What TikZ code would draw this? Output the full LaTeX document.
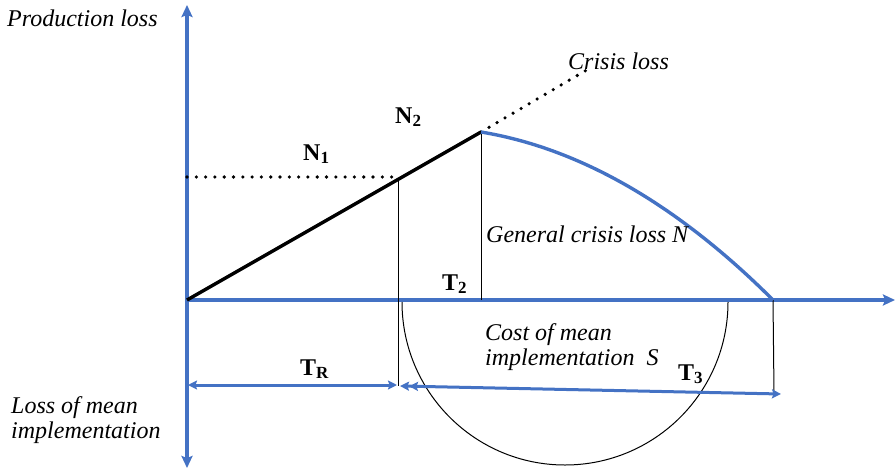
\documentclass[tikz,border=0pt]{standalone}
\usepackage{fontspec}
\setmainfont{Liberation Serif}
\usetikzlibrary{arrows.meta}
\definecolor{axisblue}{HTML}{4472C4}
\begin{document}
\begin{tikzpicture}[x=1pt,y=-1pt,
  axis/.style={draw=axisblue, line width=3.4pt},
  bluearr/.style={draw=axisblue, line width=3pt},
  thinline/.style={draw=black, line width=1pt},
  mainline/.style={draw=black, line width=3.4pt},
  dotline/.style={draw=black, line width=3.6pt, line cap=round, dash pattern=on 0pt off 9.3pt},
  lbl/.style={font=\fontsize{24}{26}\selectfont\itshape, inner sep=0pt, anchor=base west},
  mlbl/.style={font=\fontsize{24}{25}\selectfont\itshape, inner sep=0pt, anchor=north west, align=left},
  blbl/.style={font=\fontsize{24}{26}\selectfont\bfseries, inner sep=0pt, anchor=base west},
  bigtip/.tip={Stealth[length=12pt,width=11pt,inset=2pt]},
  smalltip/.tip={Stealth[length=9pt,width=9pt,inset=1.5pt]}
]
\useasboundingbox (0,0) rectangle (896,471);
\newcommand{\subsc}[1]{\raisebox{-3.5pt}{\fontsize{17}{17}\selectfont #1}}

% coordinates
\coordinate (O) at (187,300);
\coordinate (Ytop) at (187,5);
\coordinate (Ybot) at (187,468);
\coordinate (Xend) at (895,300);
\coordinate (P) at (481,132);
\coordinate (Q) at (398,178);
\coordinate (Qaxis) at (187,177);
\coordinate (Qdot) at (398,177);
\coordinate (Cend) at (590,68);
\coordinate (E) at (773,300);
\coordinate (Pbase) at (481,300);
\coordinate (Qbot) at (398,386);
\coordinate (Ebot) at (774,393);
\coordinate (TRl) at (188,385);
\coordinate (TRr) at (397,385);
\coordinate (T3l) at (400,386);
\coordinate (T3r) at (781,394);
\coordinate (Sl) at (402,302);

% axes
\draw[axis, -{bigtip}] (O) -- (Ytop);
\draw[axis, -{bigtip}] (O) -- (Ybot);
\draw[axis, -{bigtip}] (O) -- (Xend);

% thin verticals
\draw[thinline] (Q) -- (Qbot);
\draw[thinline] (P) -- (Pbase);
\draw[thinline] (E) -- (Ebot);

% semicircle
\draw[thinline] (Sl) arc[start angle=180, end angle=360, radius=163pt];

% dotted lines
\draw[dotline] (Qaxis) -- (Qdot);
\draw[dotline] (P) -- (Cend);

% production line
\draw[mainline] (O) -- (P);

% recovery curve
\draw[axis] (P) .. controls (578,148) and (676,203) .. (E);

% time arrows
\draw[bluearr, {smalltip}-{smalltip}] (TRl) -- (TRr);
\draw[bluearr, {smalltip[sep=0pt] smalltip}-{smalltip}] (T3l) -- (T3r);

% labels
\node[lbl] (prod) at (7,26) {Production loss};
\node[lbl] (crisis) at (568,69) {Crisis loss};
\node[lbl] (gen) at (486,242) {General crisis loss N};
\node[mlbl] (cost) at (485,323) {Cost of mean\\implementation\ \ S};
\node[mlbl] (lossm) at (11,396) {Loss of mean\\implementation};
\node[blbl] (n1) at (303,160) {N\subsc{1}};
\node[blbl] (n2) at (395,123) {N\subsc{2}};
\node[blbl] (t2) at (442,290) {T\subsc{2}};
\node[blbl] (tr) at (300,375) {T\subsc{R}};
\node[blbl] (t3) at (678,380) {T\subsc{3}};
\end{tikzpicture}
\end{document}
